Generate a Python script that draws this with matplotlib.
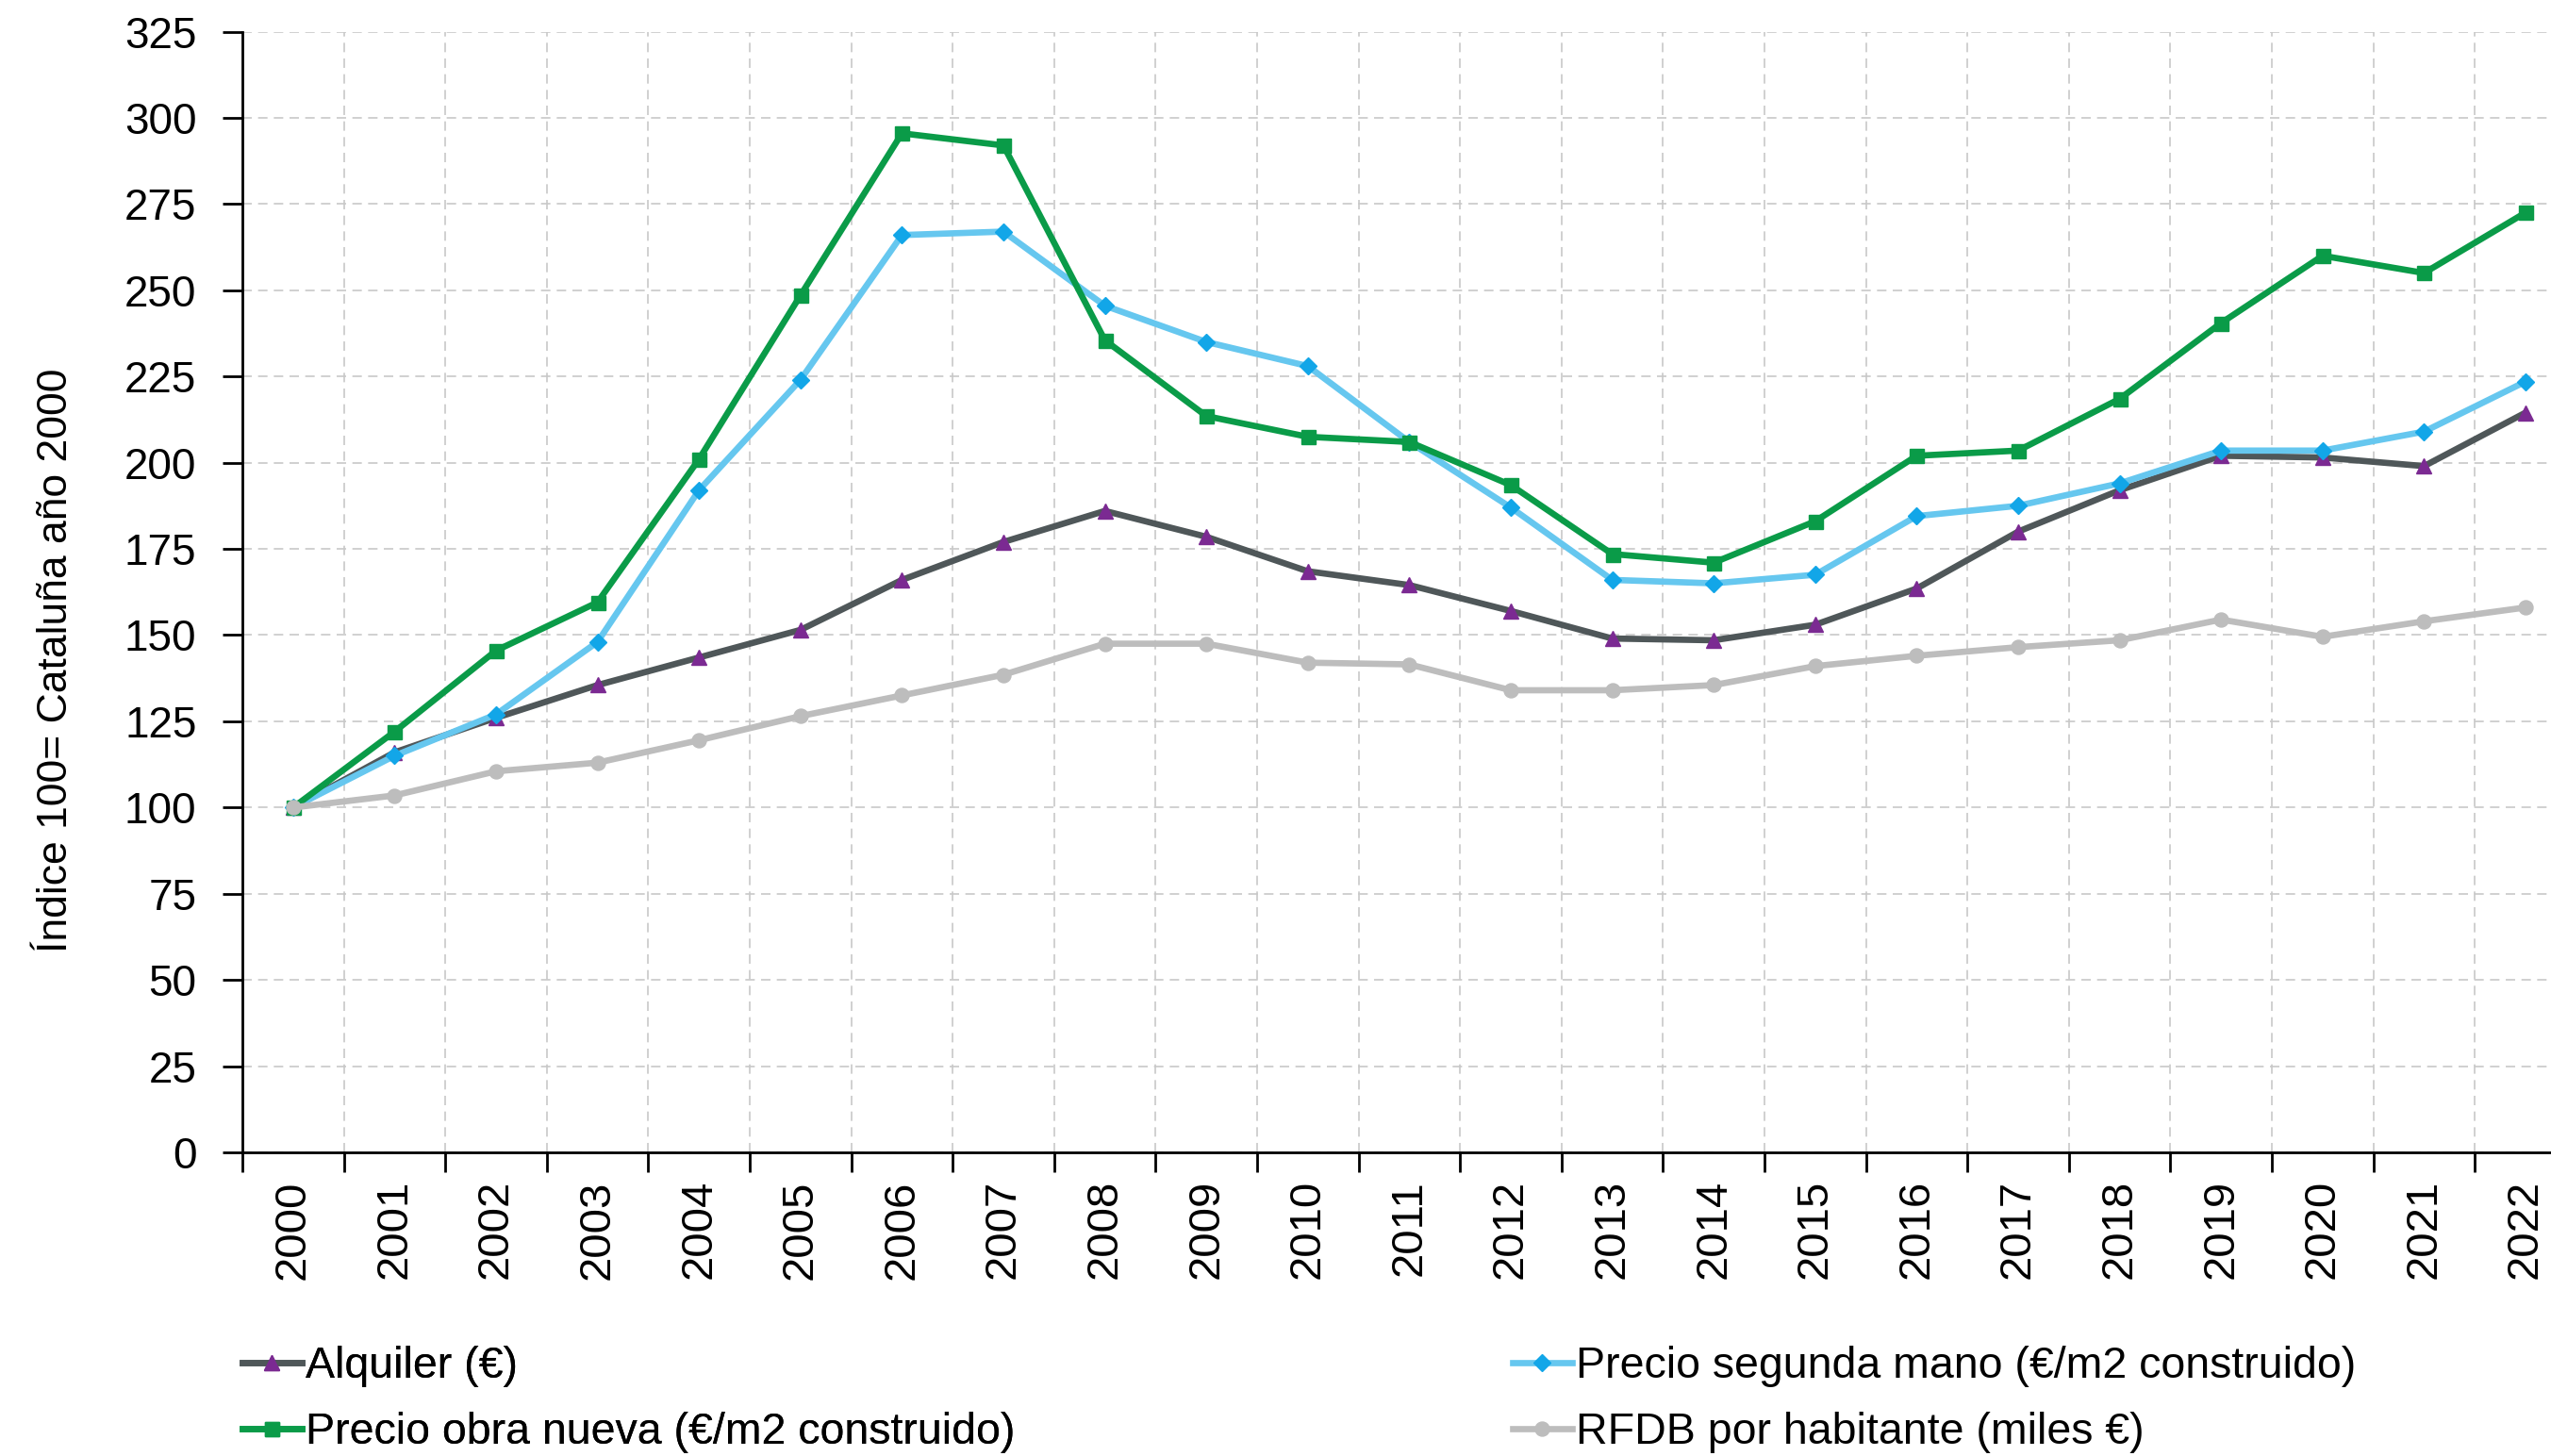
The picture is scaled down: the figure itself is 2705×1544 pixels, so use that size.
import matplotlib
matplotlib.use("Agg")
import matplotlib.pyplot as plt
from matplotlib import font_manager
from matplotlib.ticker import FixedLocator, MultipleLocator

years = [str(y) for y in range(2000, 2023)]

alquiler = [100, 116, 126, 135.5, 143.5, 151.5, 166, 177, 186, 178.5, 168.5, 164.5,
            157, 149, 148.5, 153, 163.5, 180, 192, 202, 201.5, 199, 214.5]
segunda_mano = [100, 115, 127, 148, 192, 224, 266, 267, 245.5, 235, 228, 206,
                187, 166, 165, 167.5, 184.5, 187.5, 194, 203.5, 203.5, 209, 223.5]
obra_nueva = [100, 122, 145.5, 159.5, 201, 248.5, 295.5, 292, 235.5, 213.5, 207.5, 206,
              193.5, 173.5, 171, 183, 202, 203.5, 218.5, 240.5, 260, 255, 272.5]
rfdb = [100, 103.5, 110.5, 113, 119.5, 126.5, 132.5, 138.5, 147.5, 147.5, 142, 141.5,
        134, 134, 135.5, 141, 144, 146.5, 148.5, 154.5, 149.5, 154, 158]

labels = ["Alquiler (€)", "Precio segunda mano (€/m2 construido)",
          "Precio obra nueva (€/m2 construido)", "RFDB por habitante (miles €)"]

installed = {f.name for f in font_manager.fontManager.ttflist}
regular = "Liberation Sans" if "Liberation Sans" in installed else "DejaVu Sans"

W, H = 2705, 1544
fig = plt.figure(figsize=(W / 100, H / 100), dpi=100)
fig.patch.set_facecolor("white")

left = 257 / W
bottom = 1 - 1222 / H
width = 23 * 107.6 / W
height = (1222 - 33.5) / H
ax = fig.add_axes([left, bottom, width, height])

x = list(range(len(years)))
fs = 33
lw = 4.8
ms = 12

l_alq, = ax.plot(x, alquiler, color="#4f5759", lw=lw, marker="^", ms=ms,
                 markerfacecolor="#7b2a92", markeredgecolor="#7b2a92", zorder=3)
l_seg, = ax.plot(x, segunda_mano, color="#66c7ef", lw=lw, marker="D", ms=ms * 0.8,
                 markerfacecolor="#12a6e8", markeredgecolor="#12a6e8", zorder=4)
l_obr, = ax.plot(x, obra_nueva, color="#0a9b48", lw=lw, marker="s", ms=ms * 0.9,
                 markerfacecolor="#0a9b48", markeredgecolor="#0a9b48", zorder=5)
l_rfd, = ax.plot(x, rfdb, color="#bdbdbd", lw=lw, marker="o", ms=ms * 0.9,
                 markerfacecolor="#bdbdbd", markeredgecolor="#bdbdbd", zorder=6)

ax.set_xlim(-0.5, len(years) - 0.5)
ax.set_ylim(0, 325)
ax.yaxis.set_major_locator(MultipleLocator(25))

# category boundaries carry the tick marks and vertical grid lines
ax.xaxis.set_major_locator(FixedLocator([i - 0.5 for i in range(len(years) + 1)]))
ax.xaxis.set_minor_locator(FixedLocator(x))
ax.set_xticklabels([], minor=False)
ax.set_xticklabels(years, minor=True, rotation=90, fontsize=fs + 1, family=regular,
                   va="top")
ax.tick_params(axis="x", which="major", length=15, width=2, direction="out", color="black")
ax.tick_params(axis="x", which="minor", length=0, pad=21)
ax.tick_params(axis="y", which="major", length=15, width=2, direction="out",
               pad=20, labelsize=fs)
for t in ax.get_yticklabels():
    t.set_family(regular)

ax.grid(True, which="major", color="#c8c8c8", linestyle=(0, (6, 4)), linewidth=1.2)
ax.set_axisbelow(True)

for side in ("top", "right"):
    ax.spines[side].set_visible(False)
for side in ("left", "bottom"):
    ax.spines[side].set_linewidth(2)
    ax.spines[side].set_color("black")

fig.text(60 / W, 1 - 700 / H, "Índice 100= Cataluña año 2000", rotation=90,
         ha="center", va="center", fontsize=32, family=regular)

leg_y = 1 - 1484 / H
common = dict(loc="center left", frameon=False, borderpad=0,
              borderaxespad=0, handlelength=1.35, handletextpad=0.1,
              labelspacing=0.55, prop={"family": regular, "size": 33.5})
leg1 = fig.legend([l_alq, l_obr], [labels[0], labels[2]],
                  bbox_to_anchor=(257 / W, leg_y), **common)
leg2 = fig.legend([l_seg, l_rfd], [labels[1], labels[3]],
                  bbox_to_anchor=(1604 / W, leg_y), **common)
fig.add_artist(leg1)

fig.savefig("out.png", dpi=100, facecolor="white")
